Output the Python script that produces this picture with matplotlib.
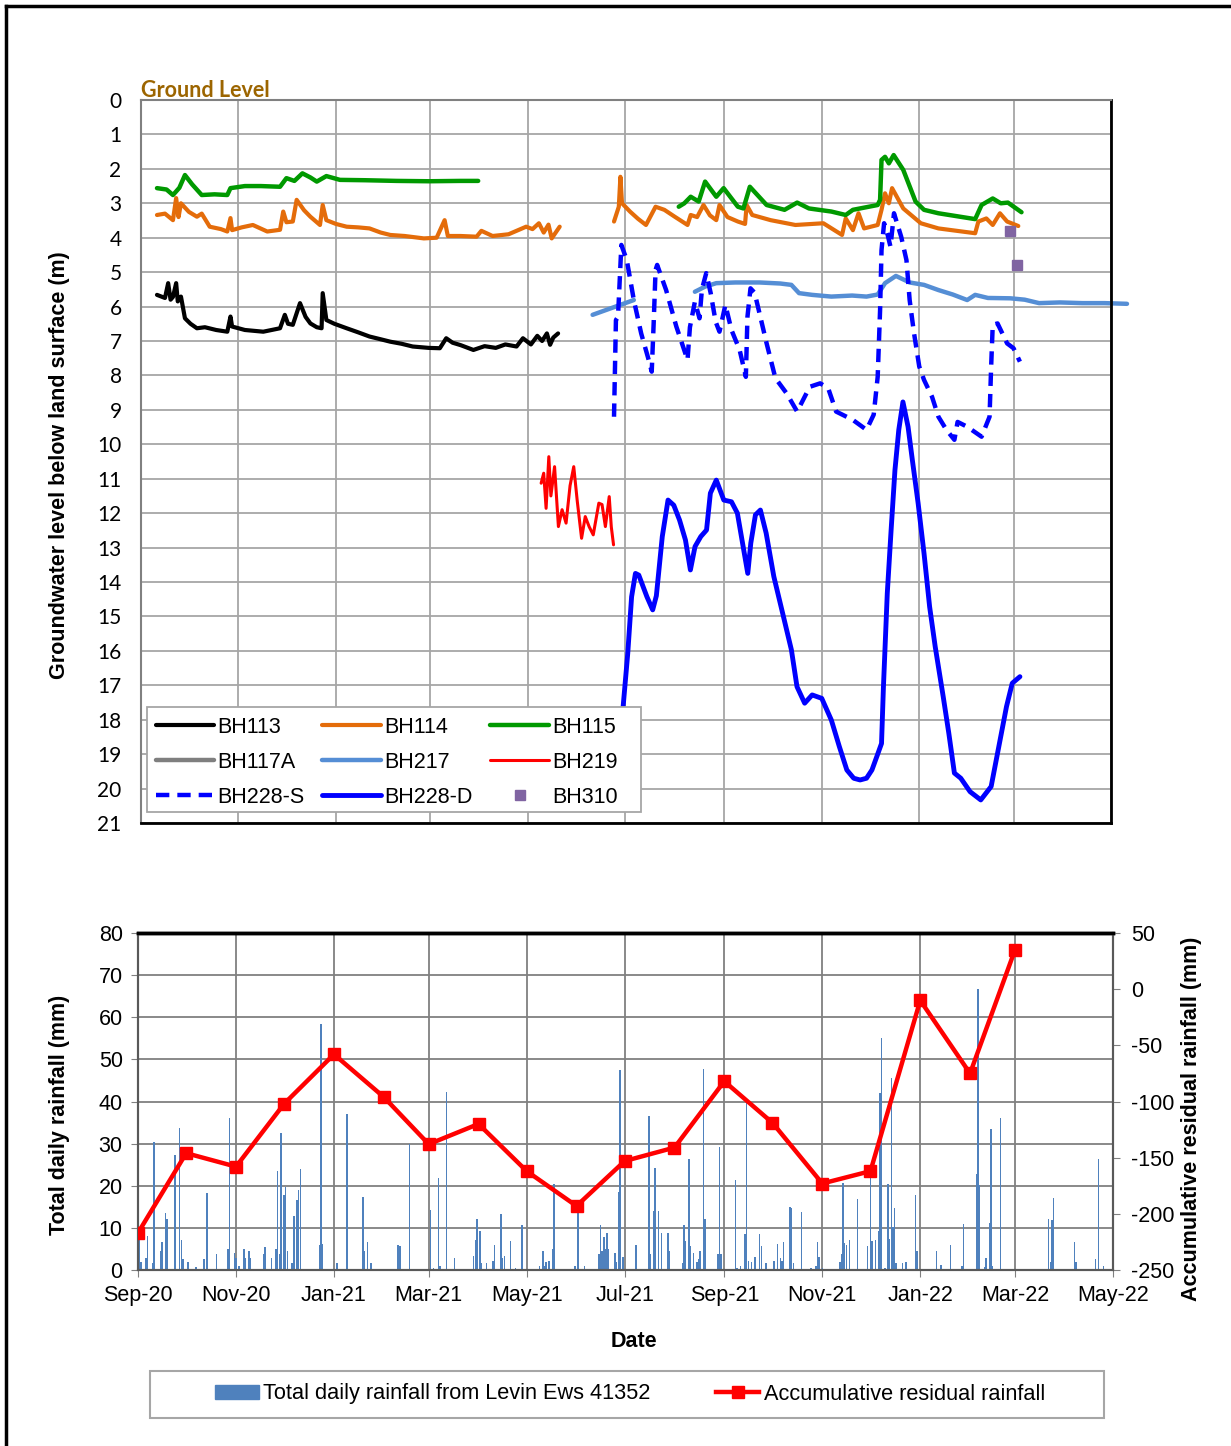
import numpy as np
import matplotlib
matplotlib.use('Agg')
import matplotlib.pyplot as plt
import matplotlib.dates as mdates
from matplotlib.lines import Line2D
from matplotlib.patches import Rectangle, Patch

# day offsets below are counted from this date
BASE = np.datetime64('2020-09-01')

# ---- groundwater levels (m below ground) ----
bh113_day = [10, 15, 17, 18.5, 20, 22, 23, 25, 27.5, 31, 35, 40, 47, 54, 56, 57, 65, 76.5, 87, 90, 92, 95,
             99.5, 103, 106, 110, 113, 113.7, 116, 121, 128.7, 136, 143, 150, 156, 163, 170, 180, 187, 191,
             195, 200, 208, 215, 222, 228, 235, 239, 244, 248, 251, 254, 256, 258, 261]
bh113_lvl = [5.66, 5.75, 5.32, 5.8, 5.72, 5.32, 5.85, 5.71, 6.34, 6.5, 6.63, 6.6, 6.68, 6.73, 6.29, 6.58,
             6.68, 6.73, 6.63, 6.24, 6.5, 6.53, 5.9, 6.3, 6.49, 6.6, 6.63, 5.61, 6.39, 6.5, 6.63, 6.75, 6.87,
             6.95, 7.02, 7.08, 7.16, 7.2, 7.21, 6.92, 7.05, 7.12, 7.26, 7.15, 7.2, 7.1, 7.16, 6.92, 7.1, 6.85,
             7.0, 6.78, 7.11, 6.9, 6.78]

bh114a_day = [10, 15, 20, 22, 23.5, 25, 30, 35, 38, 43, 50, 54, 56, 57, 63, 70, 79, 87, 89, 91, 95, 97.4,
              102, 106, 112, 113.7, 116, 122, 128.7, 136, 143, 150, 156, 165, 177, 185, 190, 192, 200, 210,
              213, 220, 230, 241, 245, 249, 252, 255, 257, 262]
bh114a_lvl = [3.34, 3.3, 3.49, 2.85, 3.4, 3.0, 3.25, 3.39, 3.3, 3.68, 3.75, 3.82, 3.43, 3.78, 3.7, 3.63,
              3.82, 3.77, 3.24, 3.55, 3.53, 2.9, 3.2, 3.39, 3.63, 3.05, 3.49, 3.6, 3.68, 3.7, 3.73, 3.85,
              3.92, 3.95, 4.02, 4.0, 3.49, 3.95, 3.95, 3.97, 3.8, 3.95, 3.9, 3.68, 3.75, 3.58, 3.85, 3.62,
              4.02, 3.68]
bh114b_day = [296, 299, 300, 301, 306, 311, 316, 322, 327.5, 334, 342, 344, 348, 352, 356, 360, 362, 367,
              373.5, 378, 379, 382.5, 394, 409.5, 427, 438.7, 441, 445.5, 449, 452.5, 461, 463.4, 465.6,
              468, 470, 477, 488, 499, 522, 524, 529, 533, 537.5, 542, 549]
bh114b_lvl = [3.53, 3.1, 2.23, 3.0, 3.24, 3.45, 3.63, 3.1, 3.19, 3.39, 3.63, 3.34, 3.4, 3.05, 3.35, 3.49,
              3.05, 3.4, 3.53, 3.6, 3.05, 3.34, 3.49, 3.63, 3.58, 3.92, 3.44, 3.78, 3.29, 3.73, 3.63, 3.19,
              2.71, 3.0, 2.56, 3.15, 3.58, 3.73, 3.87, 3.53, 3.44, 3.63, 3.29, 3.53, 3.66]

bh115a_day = [10, 16, 20, 24, 27.5, 32, 38, 46, 54, 56, 65, 75, 87, 91, 96, 101, 106, 110, 116, 124.5,
              140, 160, 180, 200, 211]
bh115a_lvl = [2.56, 2.6, 2.76, 2.55, 2.18, 2.45, 2.76, 2.74, 2.76, 2.56, 2.5, 2.5, 2.52, 2.27, 2.35, 2.13,
              2.25, 2.37, 2.21, 2.32, 2.33, 2.35, 2.36, 2.35, 2.35]
bh115b_day = [336.5, 340, 344, 349, 353, 360, 364.6, 373.5, 377, 381, 391.5, 402.7, 410.6, 418, 432, 441,
              445.5, 461, 462.5, 463.4, 465.6, 468, 471, 477, 484.7, 490, 499, 522, 526, 533, 538, 542.5, 551]
bh115b_lvl = [3.1, 3.0, 2.81, 2.95, 2.37, 2.81, 2.56, 3.1, 3.15, 2.52, 3.05, 3.19, 2.98, 3.15, 3.24, 3.34,
              3.19, 3.05, 2.9, 1.74, 1.65, 1.84, 1.6, 2.03, 2.95, 3.19, 3.29, 3.46, 3.05, 2.86, 3.0, 2.98, 3.26]

bh217a_day = [282.6, 308.4]
bh217a_lvl = [6.24, 5.81]
bh217b_day = [346.6, 353, 360, 372, 387, 400, 407, 411.8, 420, 432, 445, 454, 461, 465.6, 472.4, 481, 490,
              499, 508, 517, 522, 530, 544, 553, 562, 575, 589, 603, 617]
bh217b_lvl = [5.57, 5.42, 5.32, 5.3, 5.3, 5.33, 5.37, 5.61, 5.66, 5.71, 5.68, 5.71, 5.65, 5.32, 5.11, 5.3,
              5.37, 5.52, 5.65, 5.81, 5.66, 5.75, 5.76, 5.8, 5.9, 5.88, 5.9, 5.9, 5.92]

bh219_day = [250.4, 252, 253.5, 255.2, 256.5, 258.8, 261.2, 263.5, 266, 268.5, 270.8, 273, 275.7, 278,
             280.5, 283, 286.5, 288.5, 290.6, 293, 294.3, 295.7]
bh219_lvl = [11.13, 10.84, 11.86, 10.36, 11.5, 10.65, 12.39, 11.9, 12.29, 11.2, 10.65, 11.65, 12.73, 12.1,
             12.4, 12.63, 11.71, 11.75, 12.39, 11.52, 12.4, 12.92]

bh228s_day = [296, 297.2, 298.5, 300.6, 304, 308.4, 313, 317.4, 319.6, 320.8, 322, 323, 328.6, 335, 342,
              343.5, 346.6, 349.5, 351, 353.7, 356.5, 359.6, 362, 365.7, 369.5, 374.6, 378.5, 379.5, 381.4,
              384, 391.5, 397, 404, 410.6, 418.5, 425, 430, 435, 445.4, 454, 458.5, 461, 462.5, 463.4, 465,
              467, 469, 471.2, 475.7, 479, 481, 483.6, 487, 490, 495, 499, 504, 509, 511, 517, 526, 531, 532,
              533, 536, 542, 546, 550]
bh228s_lvl = [9.2, 6.39, 6.3, 4.21, 4.65, 5.81, 6.78, 7.5, 7.89, 6.5, 4.94, 4.79, 5.52, 6.58, 7.55, 6.6,
              5.86, 6.34, 5.5, 5.03, 5.61, 6.44, 6.73, 5.95, 6.68, 7.26, 8.04, 6.3, 5.47, 5.6, 7.07, 8.08,
              8.52, 9.05, 8.33, 8.23, 8.37, 9.05, 9.29, 9.58, 9.14, 8.04, 6.1, 4.36, 3.58, 3.87, 4.26, 3.29,
              3.97, 4.65, 5.81, 6.73, 7.74, 8.13, 8.62, 9.2, 9.58, 9.87, 9.35, 9.49, 9.78, 9.2, 7.74, 6.53,
              6.49, 7.07, 7.21, 7.6]

bh228d_day = [300.5, 301.7, 304.6, 307, 309.4, 311.5, 316.6, 320.2, 322.5, 326.2, 329.8, 333.4, 337, 340.7,
              343.8, 346.7, 350.3, 353.9, 356.3, 360, 364.7, 369.5, 373.2, 376.8, 379.7, 381.6, 384.5,
              387.6, 391.2, 396, 402, 407, 410.5, 415.3, 420, 426, 432, 437, 441.7, 446, 450, 454, 457.4,
              461, 463.4, 464.6, 467, 469.4, 471.8, 474.2, 476.8, 480, 482.7, 486.3, 490, 493.5, 497, 502,
              505.5, 509, 513, 518.8, 525.5, 532, 536.8, 541.6, 545.2, 550]
bh228d_lvl = [19.0, 17.62, 16.07, 14.43, 13.75, 13.8, 14.43, 14.81, 14.4, 12.68, 11.62, 11.77, 12.2, 12.78,
              13.65, 12.97, 12.68, 12.49, 11.42, 11.04, 11.62, 11.67, 12.0, 12.97, 13.75, 12.87, 12.05,
              11.91, 12.58, 13.84, 15.0, 15.97, 17.04, 17.52, 17.28, 17.38, 18.01, 18.78, 19.46, 19.7,
              19.75, 19.7, 19.46, 19.0, 18.69, 17.04, 14.33, 12.49, 10.75, 9.58, 8.77, 9.49, 10.46, 11.71,
              13.17, 14.72, 15.88, 17.33, 18.39, 19.55, 19.7, 20.09, 20.33, 19.94, 18.78, 17.62, 16.94, 16.75]

bh310_day = [543.5, 548]
bh310_lvl = [3.80, 4.79]

# ---- rainfall ----
rain_day = [1, 2, 5, 6, 9, 10, 14, 15, 17, 18, 23, 26, 27, 28, 31, 36, 41, 43, 49, 56, 57, 60, 61, 63, 66,
            67, 69, 70, 78, 79, 83, 86, 87, 88, 89, 91, 92, 93, 96, 97, 99, 100, 101, 113, 114, 115, 124,
            130, 140, 141, 143, 145, 162, 163, 169, 182, 184, 187, 188, 192, 197, 209, 210, 211, 213, 214,
            217, 221, 222, 226, 227, 228, 232, 235, 239, 250, 252, 253, 254, 256, 258, 259, 272, 274, 278,
            287, 288, 289, 290, 291, 292, 293, 297, 298, 299, 300, 302, 310, 318, 319, 321, 322, 324, 326,
            330, 331, 339, 340, 341, 343, 344, 346, 348, 349, 350, 352, 353, 361, 362, 363, 372, 373, 375,
            378, 379, 380, 382, 384, 387, 388, 391, 396, 398, 400, 401, 402, 406, 407, 408, 413, 419, 422,
            423, 424, 426, 437, 438, 439, 440, 441, 443, 448, 454, 456, 457, 459, 461, 462, 463, 465, 467,
            468, 469, 470, 471, 472, 476, 478, 484, 485, 497, 500, 506, 513, 514, 522, 523, 524, 527, 528,
            530, 531, 532, 537, 567, 568, 569, 570, 583, 584, 596, 598, 601]
rain_mm = [7.1, 2.0, 2.8, 8.1, 1.6, 30.5, 4.4, 6.6, 13.6, 12.1, 27.3, 33.8, 7.1, 2.5, 1.8, 0.6, 2.5, 18.2,
           3.8, 5.0, 36.2, 4.0, 2.8, 1.0, 4.9, 2.8, 4.4, 2.8, 3.7, 5.5, 2.8, 5.0, 23.6, 3.8, 32.6, 17.8,
           19.8, 4.6, 1.6, 12.8, 16.5, 19.0, 23.9, 5.9, 58.5, 6.2, 1.6, 37.0, 17.4, 4.4, 6.6, 1.6, 5.9, 5.7,
           30.0, 14.2, 0.5, 21.8, 1.0, 42.2, 2.8, 3.4, 7.1, 12.0, 9.3, 1.6, 1.6, 2.1, 5.9, 13.3, 2.8, 3.4,
           6.9, 0.4, 10.6, 1.0, 4.4, 1.0, 2.0, 2.1, 5.0, 20.4, 1.0, 13.8, 1.0, 3.8, 10.6, 4.4, 7.8, 5.1, 8.7,
           5.1, 4.0, 2.0, 18.4, 47.5, 3.2, 5.9, 36.6, 3.8, 14.0, 24.1, 14.0, 8.7, 8.7, 4.4, 1.6, 10.6, 6.9,
           26.3, 5.7, 4.0, 2.0, 2.5, 4.4, 47.7, 12.1, 3.8, 29.2, 3.8, 21.4, 0.4, 1.0, 8.5, 39.6, 2.1, 2.0,
           3.2, 8.5, 5.7, 1.6, 2.1, 6.2, 2.8, 2.1, 6.6, 14.9, 14.6, 1.6, 13.7, 0.4, 1.0, 6.6, 3.2, 0.4, 1.8,
           3.8, 20.7, 6.5, 5.9, 7.1, 16.8, 5.7, 22.2, 6.9, 7.1, 9.3, 41.9, 55.0, 0.4, 20.4, 7.4, 45.5, 10.1,
           14.6, 1.6, 1.6, 1.8, 17.8, 4.4, 4.6, 1.2, 5.9, 1.0, 10.9, 22.7, 66.6, 20.2, 0.6, 2.8, 11.2, 33.5,
           1.0, 36.0, 12.1, 2.0, 11.9, 17.2, 6.6, 2.0, 2.5, 26.3, 1.0]

resid_date = ['2020-09-01', '2020-10-01', '2020-11-01', '2020-12-01', '2021-01-01', '2021-02-01',
              '2021-03-01', '2021-04-01', '2021-05-01', '2021-06-01', '2021-07-01', '2021-08-01',
              '2021-09-01', '2021-10-01', '2021-11-01', '2021-12-01', '2022-01-01', '2022-02-01', '2022-03-01']
resid_mm = [-217, -146, -158, -102, -58, -96, -138, -120, -162, -193, -153, -141, -82, -119, -173, -162,
            -10, -75, 35]

tick_date = ['2020-09-01', '2020-11-01', '2021-01-01', '2021-03-01', '2021-05-01', '2021-07-01',
             '2021-09-01', '2021-11-01', '2022-01-01', '2022-03-01', '2022-05-01']
tick_label = ['Sep-20', 'Nov-20', 'Jan-21', 'Mar-21', 'May-21', 'Jul-21', 'Sep-21', 'Nov-21', 'Jan-22',
              'Mar-22', 'May-22']


def dnum(days):
    return mdates.date2num(BASE) + np.asarray(days, dtype=float)


def snum(dates):
    return mdates.date2num(np.array(dates, dtype='datetime64[D]'))


W, H = 1231, 1446
ARIAL = 'Liberation Sans'
plt.rcParams['font.family'] = ARIAL
plt.rcParams['axes.unicode_minus'] = False
fig = plt.figure(figsize=(W / 100, H / 100), dpi=100)

# outer frame (left + top edges visible)
fig.add_artist(Line2D([6 / W, 6 / W], [0, 1 - 6 / H], transform=fig.transFigure, color='black', lw=2.5))
fig.add_artist(Line2D([6 / W, 1], [1 - 6 / H, 1 - 6 / H], transform=fig.transFigure, color='black', lw=2.5))

# ================= groundwater panel =================
ax1 = fig.add_axes([141 / W, 1 - 823 / H, 970 / W, 723 / H])
ax1.set_xlim(dnum(0), dnum(607))
ax1.set_ylim(21, 0)
ax1.set_yticks(range(22))
ax1.set_xticks(snum(tick_date))
ax1.set_xticklabels([])
ax1.tick_params(length=0, labelsize=15, pad=14)
for lab in ax1.get_yticklabels():
    lab.set_family('Lato')
ax1.grid(True, color='#A6A6A6', lw=1.3)
ax1.set_axisbelow(True)
for s in ['left', 'top']:
    ax1.spines[s].set_color('#808080')
    ax1.spines[s].set_linewidth(1.5)
for s in ['right', 'bottom']:
    ax1.spines[s].set_color('black')
    ax1.spines[s].set_linewidth(2)

kw = dict(solid_capstyle='round', solid_joinstyle='round', clip_on=False)
h113, = ax1.plot(dnum(bh113_day), bh113_lvl, color='black', lw=3, label='BH113', **kw)
h114, = ax1.plot(dnum(bh114a_day), bh114a_lvl, color='#E46C0A', lw=3, label='BH114', **kw)
ax1.plot(dnum(bh114b_day), bh114b_lvl, color='#E46C0A', lw=3, **kw)
h115, = ax1.plot(dnum(bh115a_day), bh115a_lvl, color='#009900', lw=3.2, label='BH115', **kw)
ax1.plot(dnum(bh115b_day), bh115b_lvl, color='#009900', lw=3.2, **kw)
h117, = ax1.plot([], [], color='#7F7F7F', lw=3.2, label='BH117A', **kw)
h217, = ax1.plot(dnum(bh217a_day), bh217a_lvl, color='#558ED5', lw=3.2, label='BH217', **kw)
ax1.plot(dnum(bh217b_day), bh217b_lvl, color='#558ED5', lw=3.2, **kw)
h219, = ax1.plot(dnum(bh219_day), bh219_lvl, color='#FF0000', lw=2.2, label='BH219', **kw)
h228s, = ax1.plot(dnum(bh228s_day), bh228s_lvl, color='#0000FF', lw=3.2, ls=(0, (3, 1.8)),
                  label='BH228-S', dash_joinstyle='round')
h228d, = ax1.plot(dnum(bh228d_day), bh228d_lvl, color='#0000FF', lw=3.5, label='BH228-D', **kw)
h310, = ax1.plot(dnum(bh310_day), bh310_lvl, ls='none', marker='s', ms=7, color='#8064A2', label='BH310')

ax1.set_ylabel('Groundwater level below land surface (m)', fontsize=15.5, fontweight='bold')
ax1.yaxis.set_label_coords(-0.073, 0.495)
ax1.text(0.0, 0.999, 'Ground Level', transform=ax1.transAxes, fontsize=15.5, fontweight='bold',
         family='Lato', color='#9C6500', ha='left', va='bottom')

# legend box drawn separately so it can match the original width
ax1.add_patch(Rectangle((6 / 970, 11 / 723), 494 / 970, 105 / 723, transform=ax1.transAxes,
                        facecolor='white', edgecolor='#A6A6A6', lw=1.3, zorder=9, clip_on=False))
order = [h113, h117, h228s, h114, h217, h228d, h115, h219, h310]
leg = ax1.legend(handles=order, ncol=3, loc='upper left', bbox_to_anchor=(7 / 970, 114 / 723),
                 borderaxespad=0, fontsize=15.5, handlelength=2.7, handletextpad=0.15,
                 columnspacing=0.85, labelspacing=0.65, frameon=False, borderpad=0.35)
leg.set_zorder(10)

# ================= rainfall panel =================
ax2 = fig.add_axes([138 / W, 1 - 1270 / H, 975 / W, 337 / H])
ax2.bar(dnum(rain_day), rain_mm, width=0.9, color='#4F81BD', lw=0, zorder=2)
ax2.set_xlim(dnum(0), dnum(607))
ax2.set_ylim(0, 80)
ax2.set_yticks(range(0, 81, 10))
ax2.set_xticks(snum(tick_date))
ax2.set_xticklabels(tick_label)
ax2.tick_params(labelsize=15.5, length=5, color='#808080', pad=6)
ax2.grid(True, color='#808080', lw=1.3)
ax2.set_axisbelow(True)
ax2.set_ylabel('Total daily rainfall (mm)', fontsize=15.5, fontweight='bold')
ax2.yaxis.set_label_coords(-0.07, 0.46)
ax2.set_xlabel('Date', fontsize=15.5, fontweight='bold')
ax2.xaxis.set_label_coords(0.509, -0.18)

ax3 = ax2.twinx()
ax3.plot(snum(resid_date), resid_mm, color='#FF0000', lw=3.2, marker='s', ms=9, zorder=5)
ax3.set_ylim(-250, 50)
ax3.set_yticks(range(-250, 51, 50))
ax3.tick_params(labelsize=15.5, length=5, color='#808080', pad=8)
ax3.set_ylabel('Accumulative residual rainfall (mm)', fontsize=15.5, fontweight='bold')
ax3.yaxis.set_label_coords(1.07, 0.45)

for a in (ax2, ax3):
    a.spines['top'].set_color('black')
    a.spines['top'].set_linewidth(2.5)
    for s in ['left', 'right', 'bottom']:
        a.spines[s].set_color('#595959')
        a.spines[s].set_linewidth(1.5)

# bottom legend with its own box
fig.add_artist(Rectangle((150 / W, 1 - 1418 / H), 954 / W, 47 / H, transform=fig.transFigure,
                         fill=False, ec='#A6A6A6', lw=1.5))
leg2 = fig.legend(handles=[Patch(color='#4F81BD'),
                           Line2D([], [], color='#FF0000', lw=3.2, marker='s', ms=9)],
                  labels=['Total daily rainfall from Levin Ews 41352', 'Accumulative residual rainfall'],
                  loc='center', bbox_to_anchor=(630 / W, 1 - 1394 / H), ncol=2, frameon=False,
                  prop={'family': ['Liberation Sans Narrow', ARIAL], 'size': 15.7},
                  handlelength=2.0, handleheight=0.6, handletextpad=0.2, columnspacing=3.0)

fig.savefig('out.png', dpi=100)
